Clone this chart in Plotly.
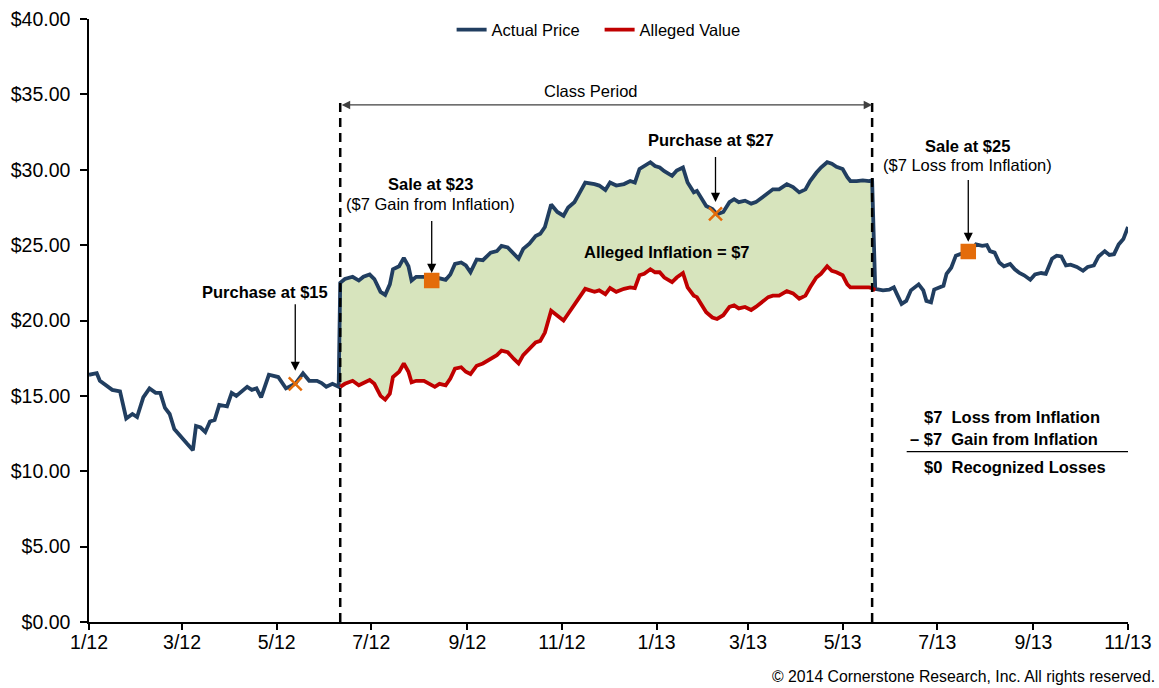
import plotly.graph_objects as go
import pandas as pd

# ---------------- data ----------------
BASE_DATE = "2012-01-01"

# Before class period (actual price only); x = days since 2012-01-01
pre_days = [0, 5, 7, 15, 20, 22, 24, 28, 31, 35, 39, 43, 46, 49, 52, 55, 59, 63, 67, 69,
            72, 75, 78, 81, 84, 89, 92, 95, 102, 105, 108, 111, 116, 122, 127, 133, 138,
            142, 147, 150, 153, 157, 161]
pre_price = [16.4, 16.5, 16.0, 15.4, 15.3, 14.3, 13.5, 13.8, 13.6, 14.9, 15.5, 15.2, 15.2,
             14.2, 13.8, 12.8, 12.3, 11.85, 11.4, 13.0, 12.9, 12.6, 13.3, 13.4, 14.4, 14.3,
             15.2, 15.0, 15.6, 15.4, 15.5, 14.9, 16.4, 16.25, 15.5, 15.8, 16.5, 16.0, 16.0,
             15.85, 15.6, 15.8, 15.6]

# Class period (actual price and alleged value)
class_days = [162, 165, 170, 174, 177, 181, 184, 188, 191, 194, 196, 200, 203, 206, 208,
              211, 216, 219, 223, 226, 230, 233, 236, 240, 243, 246, 250, 254, 259, 263,
              266, 270, 274, 277, 280, 284, 288, 291, 294, 298, 302, 306, 309, 313, 316,
              320, 326, 329, 333, 336, 340, 345, 349, 352, 355, 358, 362, 365, 368, 371,
              376, 379, 383, 386, 390, 392, 395, 398, 402, 405, 409, 413, 416, 419, 423,
              427, 430, 434, 438, 441, 445, 450, 454, 458, 462, 465, 469, 472, 476, 479,
              482, 486, 489, 491, 495, 499, 503, 505, 507]
class_price = [22.5, 22.75, 22.9, 22.65, 22.9, 23.05, 22.75, 21.9, 21.7, 22.4, 23.4, 23.6,
               24.15, 23.6, 22.65, 22.9, 22.9, 22.75, 22.7, 22.8, 22.7, 23.05, 23.75, 23.85,
               23.65, 23.2, 24.05, 24.0, 24.5, 24.6, 24.95, 24.85, 24.4, 24.1, 24.75, 25.1,
               25.6, 25.75, 26.2, 27.7, 27.2, 26.95, 27.5, 27.85, 28.4, 29.15, 29.05, 28.95,
               28.65, 29.15, 28.95, 29.05, 29.25, 29.15, 30.05, 30.25, 30.5, 30.25, 30.15,
               29.9, 29.6, 29.95, 30.15, 29.15, 28.5, 28.6, 28.05, 27.6, 27.4, 27.05, 27.2,
               27.85, 28.05, 27.85, 27.95, 27.75, 27.85, 28.15, 28.5, 28.7, 28.7, 29.05,
               28.85, 28.5, 28.7, 29.25, 29.8, 30.15, 30.5, 30.4, 30.2, 30.05, 29.5, 29.25,
               29.25, 29.3, 29.25, 29.3, 22.1]
class_value = [15.6, 15.8, 16.0, 15.7, 15.85, 16.05, 15.8, 15.0, 14.75, 15.15, 16.25, 16.6,
               17.15, 16.6, 15.9, 16.0, 16.0, 15.8, 15.6, 15.8, 15.7, 16.15, 16.8, 16.9,
               16.6, 16.45, 17.0, 17.15, 17.45, 17.7, 18.0, 17.9, 17.45, 17.15, 17.7, 18.1,
               18.55, 18.65, 19.2, 20.65, 20.3, 20.0, 20.45, 21.1, 21.5, 22.1, 21.9, 22.0,
               21.75, 22.15, 21.9, 22.1, 22.2, 22.15, 23.0, 23.1, 23.4, 23.2, 23.2, 22.85,
               22.55, 22.85, 23.15, 22.2, 21.65, 21.55, 21.0, 20.55, 20.2, 20.1, 20.35, 20.9,
               21.0, 20.8, 20.9, 20.7, 20.9, 21.2, 21.55, 21.65, 21.65, 21.95, 21.8, 21.45,
               21.65, 22.2, 22.85, 23.1, 23.6, 23.3, 23.2, 23.0, 22.4, 22.2, 22.2, 22.25,
               22.2, 22.15, 22.0]

# After class period (actual price only)
post_days = [512, 516, 519, 521, 524, 527, 530, 535, 538, 540, 543, 545, 548, 551, 553, 556,
             559, 563, 565, 568, 572, 576, 579, 581, 584, 587, 590, 594, 597, 600, 603, 607,
             610, 614, 617, 621, 624, 627, 630, 633, 637, 641, 644, 648, 651, 655, 658, 661,
             664, 667, 670]
post_price = [22.0, 22.05, 22.2, 21.75, 21.1, 21.3, 22.0, 22.4, 22.0, 21.3, 21.2, 22.05, 22.2,
              22.3, 23.1, 23.5, 24.3, 24.45, 24.3, 24.5, 25.05, 24.95, 25.0, 24.6, 24.5, 23.85,
              23.6, 23.75, 23.4, 23.15, 23.0, 22.7, 23.05, 23.15, 23.1, 24.1, 24.3, 24.25,
              23.65, 23.7, 23.55, 23.3, 23.55, 23.65, 24.25, 24.6, 24.35, 24.4, 25.05, 25.4,
              26.2]

class_start = "2012-06-11"
class_end = "2013-05-20"

# Trades
trade_days = [133, 221, 404, 567]
trade_prices = [15.8, 22.66, 27.07, 24.58]
trade_symbols = ["x-thin", "square", "x-thin", "square"]
trade_titles = ["Purchase at $15", "Sale at $23", "Purchase at $27", "Sale at $25"]
trade_notes = ["", "($7 Gain from Inflation)", "", "($7 Loss from Inflation)"]

tick_dates = ["2012-01-01", "2012-03-01", "2012-05-01", "2012-07-01", "2012-09-01",
              "2012-11-01", "2013-01-01", "2013-03-01", "2013-05-01", "2013-07-01",
              "2013-09-01", "2013-11-01"]
tick_labels = ["1/12", "3/12", "5/12", "7/12", "9/12", "11/12", "1/13", "3/13", "5/13",
               "7/13", "9/13", "11/13"]
y_ticks = [0, 5, 10, 15, 20, 25, 30, 35, 40]

# ---------------- helpers ----------------
base = pd.Timestamp(BASE_DATE)


def to_dates(days):
    return [base + pd.Timedelta(days=d) for d in days]


NAVY = "#213E60"
RED = "#C00000"
GREEN_FILL = "#D7E4BD"
ORANGE = "#E46C0A"
FONT = "Liberation Sans, Arial, sans-serif"

all_days = pre_days + class_days + post_days
all_price = pre_price + class_price + post_price

fig = go.Figure()

# inflation band
cd = to_dates(class_days)
fig.add_trace(go.Scatter(
    x=cd + cd[::-1], y=class_price + class_value[::-1],
    fill="toself", fillcolor=GREEN_FILL, line=dict(width=0),
    mode="lines", showlegend=False, hoverinfo="skip"))

fig.add_trace(go.Scatter(
    x=to_dates(all_days), y=all_price, mode="lines", name="Actual Price",
    line=dict(color=NAVY, width=3.8)))

fig.add_trace(go.Scatter(
    x=cd, y=class_value, mode="lines", name="Alleged Value",
    line=dict(color=RED, width=3.8)))

fig.add_trace(go.Scatter(
    x=to_dates(trade_days), y=trade_prices, mode="markers", showlegend=False,
    marker=dict(symbol=trade_symbols, size=13, color=ORANGE,
                line=dict(color=ORANGE, width=2.5))))

# class period dashed lines
for d in (class_start, class_end):
    fig.add_shape(type="line", xref="x", yref="y", x0=d, x1=d, y0=0, y1=34.75,
                  line=dict(color="black", width=2.5, dash="9px,6px"))

annotations = []
# Class period double arrow
annotations.append(dict(x=class_end, y=34.3, ax=class_start, ay=34.3, xref="x", yref="y",
                        axref="x", ayref="y", text="", showarrow=True, arrowhead=2,
                        arrowside="end+start", arrowsize=1.3, arrowwidth=1.3,
                        arrowcolor="#404040", startarrowhead=2, startarrowsize=1.3))
annotations.append(dict(x=base + pd.Timedelta(days=324), y=35.22, xref="x", yref="y",
                        text="Class Period", showarrow=False, yanchor="middle",
                        font=dict(size=16.5, color="black")))

# trade arrows & labels
arrow_specs = [(-81, 13), (-61, 7.5), (-58.5, 12), (-73, 9.6)]
title_shift = [(-30, 92), (-1, 96), (-4.7, 73.5), (-0.5, 105)]
note_shift = [None, (-1, 76.5), None, (-0.5, 86)]
for i in range(4):
    xd = base + pd.Timedelta(days=trade_days[i])
    ay, so = arrow_specs[i]
    annotations.append(dict(x=xd, y=trade_prices[i], xref="x", yref="y", text="",
                            showarrow=True, ax=0, ay=ay, standoff=so, arrowhead=2,
                            arrowsize=1.4, arrowwidth=1.3, arrowcolor="black"))
    xs, ys = title_shift[i]
    annotations.append(dict(x=xd, y=trade_prices[i], xref="x", yref="y",
                            text="<b>" + trade_titles[i] + "</b>", showarrow=False,
                            xshift=xs, yshift=ys, yanchor="middle",
                            font=dict(size=16.5, color="black")))
    if trade_notes[i]:
        xs, ys = note_shift[i]
        annotations.append(dict(x=xd, y=trade_prices[i], xref="x", yref="y",
                                text=trade_notes[i], showarrow=False, yanchor="middle",
                                xshift=xs, yshift=ys, font=dict(size=16.5, color="black")))

annotations.append(dict(x=base + pd.Timedelta(days=373), y=24.56, xref="x", yref="y",
                        text="<b>Alleged Inflation = $7</b>", showarrow=False,
                        yanchor="middle", font=dict(size=16.5, color="black")))

# summary block
annotations.append(dict(x=0.8015, y=0.3405, xref="paper", yref="paper", xanchor="left",
                        yanchor="middle", text="<b>$7  Loss from Inflation</b>",
                        showarrow=False, font=dict(size=16.5, color="black")))
annotations.append(dict(x=0.788, y=0.303, xref="paper", yref="paper", xanchor="left",
                        yanchor="middle", text="<b>– $7  Gain from Inflation</b>",
                        showarrow=False, font=dict(size=16.5, color="black")))
annotations.append(dict(x=0.8015, y=0.2565, xref="paper", yref="paper", xanchor="left",
                        yanchor="middle", text="<b>$0  Recognized Losses</b>",
                        showarrow=False, font=dict(size=16.5, color="black")))
fig.add_shape(type="line", xref="paper", yref="paper", x0=0.787, x1=1.0, y0=0.2824,
              y1=0.2824, line=dict(color="black", width=1.3))

annotations.append(dict(x=1.028, y=-0.0912, xref="paper", yref="paper", xanchor="right",
                        yanchor="middle",
                        text="© 2014 Cornerstone Research, Inc. All rights reserved.",
                        showarrow=False, font=dict(size=15.8, color="black")))

fig.update_layout(
    width=1159, height=688,
    margin=dict(l=89, r=31, t=19, b=66, autoexpand=False),
    paper_bgcolor="white", plot_bgcolor="white",
    font=dict(family=FONT, color="black"),
    annotations=annotations,
    legend=dict(orientation="h", x=0.349, xanchor="left", y=1.011, yanchor="top",
                entrywidth=103, font=dict(size=16.5), bgcolor="rgba(0,0,0,0)"),
    xaxis=dict(type="date", range=[tick_dates[0], tick_dates[-1]], tickvals=tick_dates,
               ticktext=tick_labels, showgrid=False, zeroline=False, showline=True,
               linecolor="black", linewidth=1.5, ticks="outside", ticklen=6,
               tickwidth=1.5, tickcolor="black", tickfont=dict(size=19.5),
               ticklabelstandoff=-4, automargin=False),
    yaxis=dict(range=[0, 40], tickvals=y_ticks, tickformat="$.2f", showgrid=False,
               zeroline=False, showline=True, linecolor="black", linewidth=1.5,
               ticks="outside", ticklen=7, tickwidth=1.5, tickcolor="black",
               tickfont=dict(size=19.5), ticklabelstandoff=6, automargin=False),
)

fig.write_html("out.html", config={"displayModeBar": False},
               post_script="document.body.style.margin='0px';"
                           "document.body.style.overflow='hidden';")
